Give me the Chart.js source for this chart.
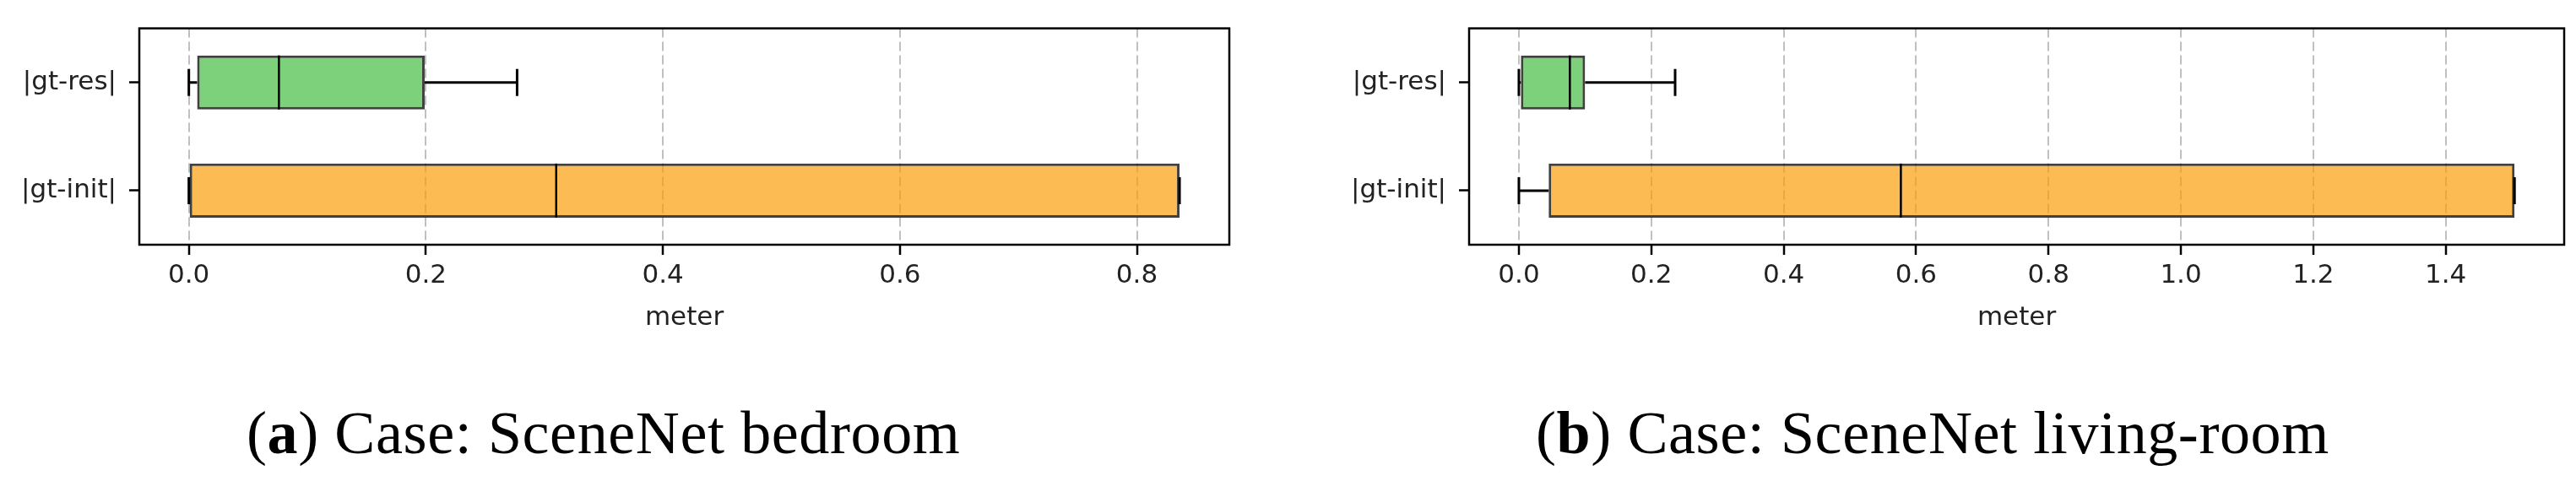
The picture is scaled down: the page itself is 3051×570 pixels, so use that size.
<!DOCTYPE html>
<html>
<head>
<meta charset="utf-8">
<script src="https://cdn.jsdelivr.net/npm/chart.js@4.4.1/dist/chart.umd.min.js"></script>
<style>
  body { margin: 0; background: #fff; width: 3051px; height: 570px; position: relative; overflow: hidden; }
  .panel { position: absolute; top: 0; height: 400px; }
  .caption { position: absolute; top: 477px; font-family: "Liberation Serif", "DejaVu Serif", serif; font-size: 72px; line-height: 72px; letter-spacing: 0.6px; color: #000; white-space: nowrap; }
</style>
</head>
<body>
<div class="panel" style="left:0px; width:1500px;"><canvas id="grafico-a"></canvas></div>
<div class="panel" style="left:1560px; width:1491px;"><canvas id="grafico-b"></canvas></div>
<div class="caption" style="left:292px;">(<b>a</b>) Case: SceneNet bedroom</div>
<div class="caption" style="left:1819px;">(<b>b</b>) Case: SceneNet living-room</div>

<script>
// Categorías (de arriba a abajo)
var categorias = ["|gt-res|", "|gt-init|"];

// Caso (a): SceneNet bedroom
var minA = [0.000, 0.000];
var q1A = [0.007, 0.000];
var medianaA = [0.076, 0.310];
var q3A = [0.199, 0.836];
var maxA = [0.277, 0.836];
var ticksA = [0.0, 0.2, 0.4, 0.6, 0.8];

// Caso (b): SceneNet living-room
var minB = [0.000, 0.000];
var q1B = [0.003, 0.045];
var medianaB = [0.077, 0.577];
var q3B = [0.100, 1.504];
var maxB = [0.236, 1.504];
var ticksB = [0.0, 0.2, 0.4, 0.6, 0.8, 1.0, 1.2, 1.4];

var colores = ["rgba(68, 189, 65, 0.7)", "rgba(252, 158, 11, 0.7)"];

// Plugin para bigotes, medianas y el marco del gráfico
var pluginCajas = {
    id: "cajas",
    afterDatasetsDraw: function(chart) {
        var cfg = chart.options.plugins.cajas;
        var ctx = chart.ctx;
        var x = chart.scales.x;
        var y = chart.scales.y;
        var mitad = y.getPixelForValue(0) - y.getPixelForValue(-0.5); // alto de una categoría / 2
        var cap = mitad * 0.25;
        var caja = mitad * 0.5;
        ctx.save();
        ctx.strokeStyle = "#000";
        for (var i = 0; i < categorias.length; i++) {
            var yc = y.getPixelForValue(i);
            ctx.lineWidth = 3;
            ctx.beginPath();
            // bigote inferior
            ctx.moveTo(x.getPixelForValue(cfg.min[i]), yc);
            ctx.lineTo(x.getPixelForValue(cfg.q1[i]), yc);
            // bigote superior
            ctx.moveTo(x.getPixelForValue(cfg.q3[i]), yc);
            ctx.lineTo(x.getPixelForValue(cfg.max[i]), yc);
            // topes
            ctx.moveTo(x.getPixelForValue(cfg.min[i]), yc - cap);
            ctx.lineTo(x.getPixelForValue(cfg.min[i]), yc + cap);
            ctx.moveTo(x.getPixelForValue(cfg.max[i]), yc - cap);
            ctx.lineTo(x.getPixelForValue(cfg.max[i]), yc + cap);
            ctx.stroke();
            // mediana
            ctx.lineWidth = 2.5;
            ctx.beginPath();
            ctx.moveTo(x.getPixelForValue(cfg.mediana[i]), yc - caja);
            ctx.lineTo(x.getPixelForValue(cfg.mediana[i]), yc + caja);
            ctx.stroke();
        }
        // marco
        var a = chart.chartArea;
        ctx.lineWidth = 2.5;
        ctx.strokeRect(a.left, a.top, a.right - a.left, a.bottom - a.top);
        ctx.restore();
    }
};

function generarGrafico(id, q1, q3, min, mediana, max, ticks, xMin, xMax, anchoY, padDerecha) {
    var ctx = document.getElementById(id).getContext("2d");
    var config = {
        type: "bar",
        data: {
            labels: categorias,
            datasets: [
                {
                    data: categorias.map(function(c, i) { return [q1[i], q3[i]]; }),
                    backgroundColor: colores,
                    borderColor: "rgba(30, 30, 30, 0.85)",
                    borderWidth: 3,
                    borderSkipped: false,
                    barPercentage: 0.5,
                    categoryPercentage: 1.0
                }
            ]
        },
        options: {
            indexAxis: "y",
            responsive: false,
            animation: false,
            layout: { padding: { top: 19, right: padDerecha, left: 0, bottom: 0 } },
            plugins: {
                legend: { display: false },
                tooltip: { enabled: false },
                cajas: { min: min, q1: q1, mediana: mediana, q3: q3, max: max }
            },
            scales: {
                x: {
                    type: "linear",
                    min: xMin,
                    max: xMax,
                    afterBuildTicks: function(scale) {
                        scale.ticks = ticks.map(function(v) { return { value: v }; });
                    },
                    afterFit: function(scale) { scale.height = 110; },
                    grid: {
                        color: "rgba(150, 150, 150, 0.6)",
                        lineWidth: 2,
                        tickLength: 12,
                        tickColor: "#000",
                        tickWidth: 2.5
                    },
                    border: { display: false, dash: [11, 5] },
                    ticks: {
                        color: "#222",
                        padding: 6,
                        font: { family: "DejaVu Sans", size: 31 },
                        callback: function(v) { return Number(v).toFixed(1); }
                    },
                    title: {
                        display: true,
                        text: "meter",
                        color: "#222",
                        padding: { top: 4, bottom: 4 },
                        font: { family: "DejaVu Sans", size: 31 }
                    }
                },
                y: {
                    afterFit: function(scale) { scale.width = anchoY; },
                    grid: {
                        offset: false,
                        drawOnChartArea: false,
                        tickLength: 12,
                        tickColor: "#000",
                        tickWidth: 2.5
                    },
                    border: { display: false },
                    ticks: {
                        color: "#222",
                        padding: 15,
                        font: { family: "DejaVu Sans", size: 31 }
                    }
                }
            }
        },
        plugins: [pluginCajas]
    };
    new Chart(ctx, config);
}

document.getElementById("grafico-a").width = 1500;
document.getElementById("grafico-a").height = 400;
document.getElementById("grafico-b").width = 1491;
document.getElementById("grafico-b").height = 400;

generarGrafico("grafico-a", q1A, q3A, minA, medianaA, maxA, ticksA, -0.0418, 0.878, 165, 44);
generarGrafico("grafico-b", q1B, q3B, minB, medianaB, maxB, ticksB, -0.0752, 1.579, 180, 14);
</script>
</body>
</html>
